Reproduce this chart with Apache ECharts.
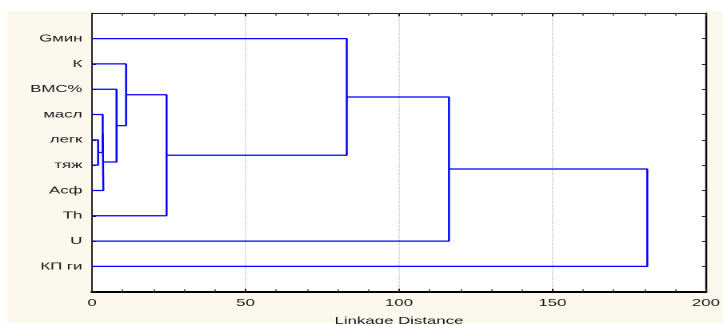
<!DOCTYPE html>
<html>
<head>
<meta charset="utf-8">
<title>Tree Diagram</title>
<script src="https://cdn.jsdelivr.net/npm/echarts@6/dist/echarts.min.js"></script>
<style>
  html, body { margin: 0; padding: 0; background: #ffffff; overflow: hidden; }
  #wrap { width: 723px; height: 324px; overflow: hidden; position: relative; }
  /* The chart is laid out narrow and widened horizontally, giving the
     wide lettering and heavier vertical strokes of the printed graph. */
  #chart { width: 452px; height: 324px; transform-origin: 0 0; transform: scaleX(1.5996); }
</style>
</head>
<body>
<div id="wrap"><div id="chart"></div></div>
<script>
// Variables, top to bottom on the tree
const leaves = ['Gмин', 'К', 'ВМС%', 'масл', 'легк', 'тяж', 'Асф', 'Th', 'U', 'КП ги'];

// Joining sequence: ids 0..9 are variables, each join creates id 10, 11, ...
const joinLeft     = [4, 3, 11, 2, 1, 14, 0, 16, 17];
const joinRight    = [5, 10, 6, 12, 13, 7, 15, 8, 9];
const joinDistance = [2.0, 3.5, 3.7, 8.0, 11.1, 24.3, 83.0, 116.3, 180.9];

// X axis ticks
const distMin = 0, distMax = 200, distStep = 50;

// Position of every node: leaves sit on rows 1..n at distance 0,
// a joined cluster sits midway between its two members.
const nodeRow = leaves.map((_, i) => i + 1);
const nodeDist = leaves.map(() => 0);
const series = [];
joinLeft.forEach((a, k) => {
  const b = joinRight[k];
  const d = joinDistance[k];
  series.push({
    type: 'line',
    xAxisIndex: 0,
    yAxisIndex: 0,
    showSymbol: false,
    symbol: 'none',
    silent: true,
    animation: false,
    lineStyle: { color: '#0000ff', width: 1.25 },
    data: [
      [nodeDist[a], nodeRow[a]],
      [d, nodeRow[a]],
      [d, nodeRow[b]],
      [nodeDist[b], nodeRow[b]]
    ]
  });
  nodeRow.push((nodeRow[a] + nodeRow[b]) / 2);
  nodeDist.push(d);
});

const font = 'Liberation Sans, Arial, sans-serif';
const chart = echarts.init(document.getElementById('chart'), null, { renderer: 'canvas', devicePixelRatio: 2 });

chart.setOption({
  animation: false,
  backgroundColor: 'transparent',
  graphic: [{
    type: 'rect',
    z: -10,
    silent: true,
    shape: { x: 4.4, y: 11, width: 460, height: 312 },
    style: { fill: '#fcf8ee' }
  }],
  grid: {
    left: 57.5, right: 10.7, top: 13.3, bottom: 32.3,
    outerBoundsMode: 'none',
    containLabel: false,
    show: true, backgroundColor: '#ffffff', borderWidth: 0
  },
  xAxis: [{
    type: 'value',
    position: 'bottom',
    min: distMin, max: distMax, interval: distStep,
    name: 'Linkage Distance',
    nameLocation: 'middle',
    nameGap: 24,
    nameTextStyle: { color: '#1a1a1a', fontSize: 10.5, fontFamily: font },
    axisLine: { show: true, onZero: false, lineStyle: { color: '#000', width: 2 } },
    axisTick: { show: true, inside: true, length: 3, lineStyle: { color: '#222', width: 1 } },
    minorTick: { show: true, splitNumber: 5, length: 2.5, lineStyle: { color: '#444', width: 0.8 } },
    axisLabel: { color: '#1a1a1a', fontSize: 10.5, fontFamily: font, margin: 6 },
    splitLine: { show: true, lineStyle: { color: '#b8b8b8', width: 0.7, type: 'dotted' } }
  }, {
    type: 'value',
    position: 'top',
    min: distMin, max: distMax, interval: distStep,
    axisLine: { show: true, onZero: false, lineStyle: { color: '#222', width: 1 } },
    axisTick: { show: true, inside: true, length: 3, lineStyle: { color: '#222', width: 1 } },
    minorTick: { show: true, splitNumber: 5, length: 2.5, lineStyle: { color: '#444', width: 0.8 } },
    axisLabel: { show: false },
    splitLine: { show: false }
  }],
  yAxis: [{
    type: 'value',
    position: 'left',
    inverse: true,
    min: 0, max: leaves.length + 1, interval: 1,
    axisLine: { show: true, onZero: false, lineStyle: { color: '#2a241c', width: 1 } },
    axisTick: { show: true, inside: true, length: 2.5, lineStyle: { color: '#222', width: 1 } },
    axisLabel: {
      color: '#1a1a1a', fontSize: 10.5, fontFamily: font, margin: 6,
      formatter: v => leaves[v - 1] || ''
    },
    splitLine: { show: false }
  }, {
    type: 'value',
    position: 'right',
    inverse: true,
    min: 0, max: leaves.length + 1, interval: 1,
    axisLine: { show: true, onZero: false, lineStyle: { color: '#000', width: 1.25 } },
    axisTick: { show: true, inside: true, length: 2.5, lineStyle: { color: '#222', width: 1 } },
    axisLabel: { show: false },
    splitLine: { show: false }
  }],
  series: series
});
</script>
</body>
</html>
